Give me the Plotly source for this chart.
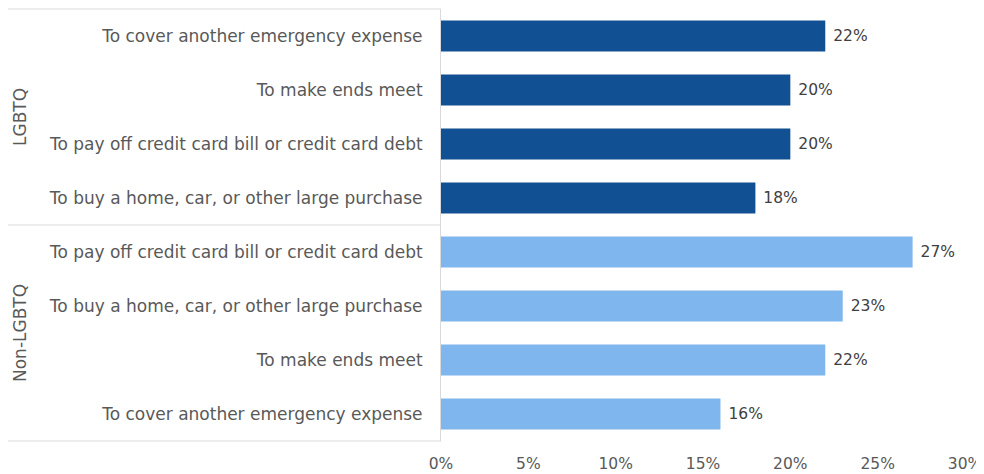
import plotly.graph_objects as go

groups = ["LGBTQ", "Non-LGBTQ"]
lgbtq_labels = [
    "To cover another emergency expense",
    "To make ends meet",
    "To pay off credit card bill or credit card debt",
    "To buy a home, car, or other large purchase",
]
lgbtq_values = [22, 20, 20, 18]
non_labels = [
    "To pay off credit card bill or credit card debt",
    "To buy a home, car, or other large purchase",
    "To make ends meet",
    "To cover another emergency expense",
]
non_values = [27, 23, 22, 16]
x_ticks = [0, 5, 10, 15, 20, 25, 30]

FONT = "DejaVu Sans"
FS = 17
NS = 15.5
GRAY = "#595959"
LINE = "#d9d9d9"

labels = lgbtq_labels + non_labels
ypos = list(range(len(labels)))

fig = go.Figure()
fig.add_trace(go.Bar(
    y=ypos[:4], x=lgbtq_values, orientation="h",
    marker=dict(color="#115092", line=dict(width=0)),
    width=0.57, text=[f" {v}%" for v in lgbtq_values],
    textposition="outside", cliponaxis=False,
    textfont=dict(family=FONT, size=NS, color="#404040"),
))
fig.add_trace(go.Bar(
    y=ypos[4:], x=non_values, orientation="h",
    marker=dict(color="#7FB6EE", line=dict(width=0)),
    width=0.57, text=[f" {v}%" for v in non_values],
    textposition="outside", cliponaxis=False,
    textfont=dict(family=FONT, size=NS, color="#404040"),
))

fig.update_layout(
    width=976, height=466,
    margin=dict(l=433, r=19, t=1, b=33, autoexpand=False),
    paper_bgcolor="white", plot_bgcolor="white",
    showlegend=False, bargap=0.43,
    font=dict(family=FONT, size=FS, color=GRAY),
    xaxis=dict(range=[0, 30], tickvals=x_ticks, ticktext=[f"{v}%" for v in x_ticks],
               showgrid=False, zeroline=False, showline=False, automargin=False,
               ticks="outside", ticklen=8, tickcolor="rgba(0,0,0,0)",
               tickfont=dict(family=FONT, size=NS, color=GRAY), fixedrange=True),
    yaxis=dict(tickvals=ypos, ticktext=labels, range=[7.5, -0.5], automargin=False,
               showgrid=False, zeroline=False, showline=True, linecolor=LINE, linewidth=1,
               ticks="outside", ticklen=14, tickcolor="rgba(0,0,0,0)",
               tickfont=dict(family=FONT, size=FS, color=GRAY), fixedrange=True),
)

# group divider lines
for yy in [1.0, 0.5, 0.0]:
    fig.add_shape(type="line", xref="paper", yref="paper",
                  x0=-433 / 524, x1=0, y0=yy, y1=yy,
                  line=dict(color=LINE, width=1))

for name, yc in zip(groups, [0.75, 0.25]):
    fig.add_annotation(text=name, xref="paper", yref="paper", x=-421 / 524, y=yc,
                       xanchor="center", yanchor="middle",
                       textangle=-90, showarrow=False,
                       font=dict(family=FONT, size=FS, color=GRAY))

fig.write_html("out.html")
